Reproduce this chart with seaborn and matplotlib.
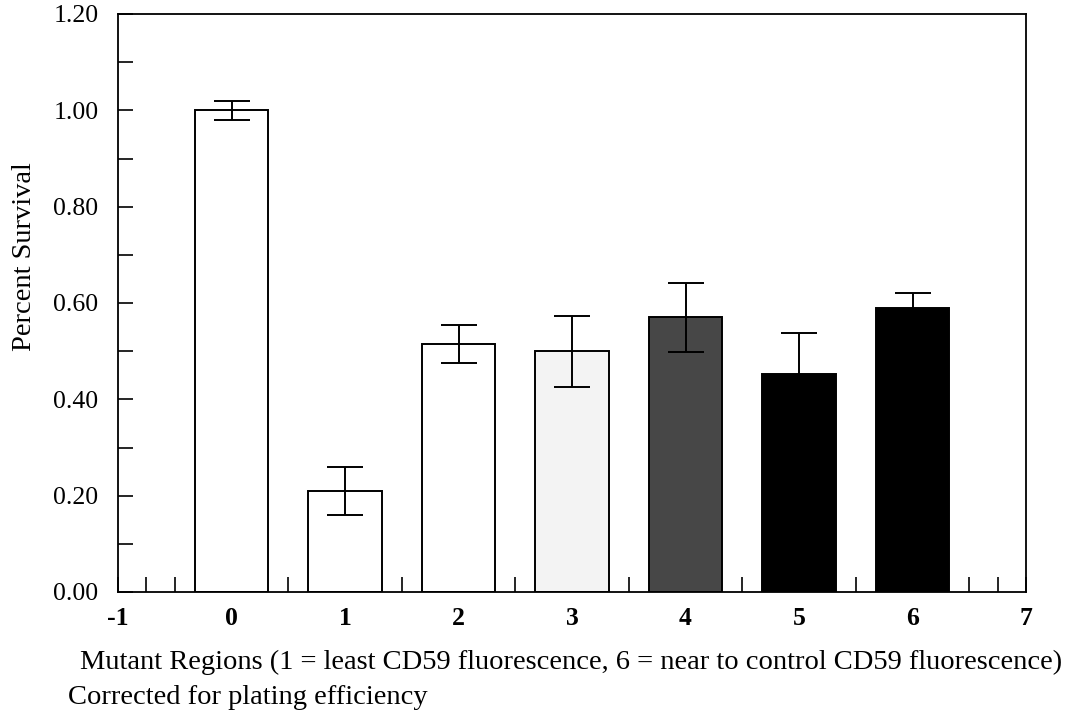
import matplotlib
matplotlib.use("Agg")
import matplotlib.pyplot as plt
from matplotlib.ticker import MultipleLocator, FormatStrFormatter
import seaborn as sns
import pandas as pd

regions = [0, 1, 2, 3, 4, 5, 6]
survival = [1.00, 0.21, 0.515, 0.50, 0.57, 0.453, 0.59]
errors = [0.02, 0.05, 0.04, 0.074, 0.072, 0.085, 0.03]
fills = ["#ffffff", "#ffffff", "#ffffff", "#f3f3f3", "#474747", "#000000", "#000000"]

sns.set_theme(style="white")
plt.rcParams["font.family"] = ["Liberation Serif", "DejaVu Serif"]
plt.rcParams["axes.unicode_minus"] = False

df = pd.DataFrame({"region": regions, "survival": survival, "grp": [str(r) for r in regions]})

fig = plt.figure(figsize=(10.77, 7.18), dpi=100)
ax = fig.add_axes([118 / 1077, 1 - 592 / 718, (1026 - 118) / 1077, (592 - 14) / 718])

sns.barplot(data=df, x="region", y="survival", hue="grp", palette=fills,
            native_scale=True, width=0.65, edgecolor="black", linewidth=1.4,
            errorbar=None, legend=False, dodge=False, ax=ax, zorder=2)

ax.errorbar(regions, survival, yerr=errors, fmt="none", ecolor="black",
            elinewidth=1.4, capsize=13, capthick=1.4, zorder=3)

ax.set_xlim(-1, 7)
ax.set_ylim(0, 1.2)
ax.xaxis.set_major_locator(MultipleLocator(1))
ax.xaxis.set_minor_locator(MultipleLocator(0.25))
ax.yaxis.set_major_locator(MultipleLocator(0.2))
ax.yaxis.set_minor_locator(MultipleLocator(0.1))
ax.yaxis.set_major_formatter(FormatStrFormatter("%.2f"))
ax.tick_params(which="both", direction="in", length=11, width=1.2, color="black",
               top=False, right=False, labelsize=18.5, labelcolor="black")
ax.tick_params(axis="x", which="both", bottom=True, pad=11)
ax.tick_params(axis="y", which="both", left=True, pad=14)
for lbl in ax.get_xticklabels():
    lbl.set_fontweight("bold")
for s in ax.spines.values():
    s.set_color("black")
    s.set_linewidth(1.3)
ax.grid(False)

ax.set_xlabel("")
ax.set_ylabel("")
fig.text(25 / 1077, 1 - 257 / 718, "Percent Survival", rotation=90,
         fontsize=20.5, color="black", ha="center", va="center")

fig.text(571 / 1077, 1 - 662 / 718,
         "Mutant Regions (1 = least CD59 fluorescence, 6 = near to control CD59 fluorescence)",
         fontsize=20.5, color="black", ha="center", va="center")
fig.text(68 / 1077, 1 - 698 / 718, "Corrected for plating efficiency",
         fontsize=20.5, color="black", ha="left", va="center")

fig.savefig("out.png", dpi=100, facecolor="white")
